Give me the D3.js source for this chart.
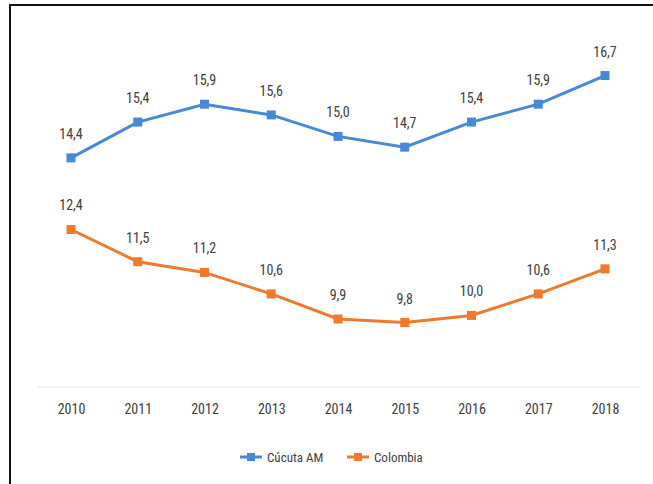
<!DOCTYPE html>
<html>
<head>
<meta charset="utf-8">
<script src="https://cdn.jsdelivr.net/npm/d3@7"></script>
<style>
  body { margin: 0; background: #fff; }
  text { font-family: "Liberation Sans Narrow", "Roboto Condensed", "DejaVu Sans Condensed", sans-serif; fill: #404040; }
</style>
</head>
<body>
<script>
//chart values
var years = ["2010", "2011", "2012", "2013", "2014", "2015", "2016", "2017", "2018"];
var cucuta = [14.4, 15.4, 15.9, 15.6, 15.0, 14.7, 15.4, 15.9, 16.7];
var colombia = [12.4, 11.5, 11.2, 10.6, 9.9, 9.8, 10.0, 10.6, 11.3];
var seriesNames = ["Cúcuta AM", "Colombia"];
var seriesColors = ["#4689d6", "#ef7a2b"];

var width = 653,
    height = 484;

var svg = d3.select("body")
  .append("svg")
  .attr("width", width)
  .attr("height", height);

//frame lines on left and top
svg.append("line")
  .attr("x1", 10).attr("x2", width).attr("y1", 5).attr("y2", 5)
  .attr("stroke", "#111").attr("stroke-width", 2);
svg.append("line")
  .attr("x1", 10).attr("x2", 10).attr("y1", 4).attr("y2", height)
  .attr("stroke", "#111").attr("stroke-width", 2);

//scales
var x = d3.scalePoint()
  .domain(years)
  .range([71, 605]);

var y = d3.scaleLinear()
  .domain([8, 18])
  .range([387, 29]);

//faint baseline
svg.append("line")
  .attr("x1", 38).attr("x2", 640)
  .attr("y1", y(8)).attr("y2", y(8))
  .attr("stroke", "#e4e4e4").attr("stroke-width", 1);

//year labels
var xAxis = svg.append("g")
  .attr("transform", "translate(0," + y(8) + ")")
  .call(d3.axisBottom(x).tickSize(0).tickPadding(17));
xAxis.select(".domain").remove();
xAxis.selectAll("text")
  .style("font-size", "14px")
  .attr("fill", "#262626");

var line = d3.line()
  .x(function(d, i){ return x(years[i]); })
  .y(function(d){ return y(d); })
  .curve(d3.curveLinear);

var fmt = function(v){ return d3.format(".1f")(v).replace(".", ","); };

[cucuta, colombia].forEach(function(vals, s){
  var g = svg.append("g");
  g.append("path")
    .datum(vals)
    .attr("fill", "none")
    .attr("stroke", seriesColors[s])
    .attr("stroke-width", 3)
    .attr("d", line);

  g.selectAll("rect")
    .data(vals)
    .enter()
    .append("rect")
    .attr("x", function(d, i){ return x(years[i]) - 4.5; })
    .attr("y", function(d){ return y(d) - 4.5; })
    .attr("width", 9)
    .attr("height", 9)
    .attr("fill", seriesColors[s]);

  g.selectAll("text")
    .data(vals)
    .enter()
    .append("text")
    .attr("x", function(d, i){ return x(years[i]); })
    .attr("y", function(d){ return y(d) - 19; })
    .attr("text-anchor", "middle")
    .style("font-size", "14px")
    .text(fmt);
});

//legend
var legend = svg.append("g");
var legX = [240, 347];
seriesNames.forEach(function(name, s){
  legend.append("line")
    .attr("x1", legX[s]).attr("x2", legX[s] + 22)
    .attr("y1", 457).attr("y2", 457)
    .attr("stroke", seriesColors[s]).attr("stroke-width", 3);
  legend.append("rect")
    .attr("x", legX[s] + 7).attr("y", 453)
    .attr("width", 8).attr("height", 8)
    .attr("fill", seriesColors[s]);
  legend.append("text")
    .attr("x", legX[s] + 27).attr("y", 462)
    .style("font-size", "13px")
    .text(name);
});
</script>
</body>
</html>
